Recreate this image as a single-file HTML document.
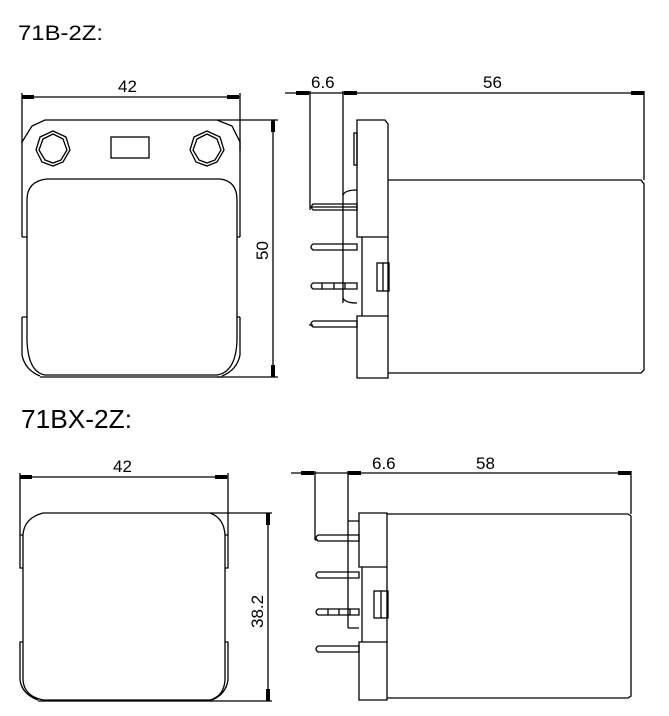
<!DOCTYPE html>
<html><head><meta charset="utf-8"><style>
html,body{margin:0;padding:0;background:#fff;}
svg{display:block;}
text{font-family:"Liberation Sans","DejaVu Sans",sans-serif;fill:#000;}
</style></head><body>
<svg width="669" height="716" viewBox="0 0 669 716" xmlns="http://www.w3.org/2000/svg" fill="none" stroke="#000" stroke-width="1.3">
<text x="18" y="40" font-size="21" textLength="85" lengthAdjust="spacingAndGlyphs" stroke="none">71B-2Z:</text>
<text x="21" y="428" font-size="26" textLength="111" lengthAdjust="spacingAndGlyphs" stroke="none">71BX-2Z:</text>

<!-- TOP LEFT -->
<line x1="22" y1="97" x2="240" y2="97"/>
<line x1="22" y1="93" x2="22" y2="143"/>
<line x1="240" y1="93" x2="240" y2="150"/>
<rect x="22" y="95" width="12" height="4" fill="#000" stroke="none"/>
<rect x="227" y="95" width="12" height="4" fill="#000" stroke="none"/>
<text x="118" y="92" font-size="17" stroke="none">42</text>
<path d="M22 237 L22 142 L32 126 L45 120 L217 120 L232 126 L240 142 L240 237"/>
<path d="M27 237 L27 200 Q27 181 47 179 L220 179 Q237 181 237 200 L237 237"/>
<path d="M22 237 L27 237 M240 237 L237 237"/>
<path d="M27 237 L27 340 Q28 372 45 375 L217 375 Q236 372 237 340 L237 237"/>
<path d="M22 317 L27 317 M22 317 L22 355 Q25 370 40 376 M240 317 L237 317 M240 317 L240 355 Q237 370 222 376"/>
<line x1="40" y1="377" x2="222" y2="377"/>
<polygon points="53,131 66,137 70,150 63,162 53,166 42,162 36,150 40,137"/>
<polygon points="53,134 63,139 67,150 61,160 53,163 45,160 39,150 43,139"/>
<polygon points="207,131 220,137 224,150 217,162 207,166 196,162 190,150 194,137"/>
<polygon points="207,134 217,139 221,150 215,160 207,163 199,160 193,150 197,139"/>
<rect x="111" y="137" width="38" height="21"/>
<line x1="217" y1="120" x2="278" y2="120"/>
<line x1="217" y1="377" x2="278" y2="377"/>
<line x1="273" y1="120" x2="273" y2="377"/>
<rect x="271" y="120" width="4" height="12" fill="#000" stroke="none"/>
<rect x="271" y="365" width="4" height="12" fill="#000" stroke="none"/>
<text x="0" y="0" font-size="17" stroke="none" transform="translate(268,260) rotate(-90)">50</text>

<!-- TOP RIGHT -->
<line x1="285" y1="93" x2="644" y2="93"/>
<rect x="296" y="91" width="13" height="4" fill="#000" stroke="none"/>
<rect x="344" y="91" width="13" height="4" fill="#000" stroke="none"/>
<rect x="631" y="91" width="13" height="4" fill="#000" stroke="none"/>
<text x="311" y="88" font-size="17" stroke="none">6.6</text>
<text x="483" y="88" font-size="17" stroke="none">56</text>
<line x1="310" y1="91" x2="310" y2="210"/>
<line x1="343" y1="91" x2="343" y2="303"/>
<line x1="644" y1="91" x2="644" y2="180"/>
<path d="M357 237 L357 120 L385 120 L388 124 L388 237 Z"/>
<rect x="354" y="133" width="3" height="32"/>
<path d="M388 180 L641 180 L644 184 L644 370 L641 373 L388 373"/>
<path d="M362 237 L362 316 M388 237 L388 316"/>
<path d="M357 316 L388 316 L388 378 L357 378 Z"/>
<path d="M343 195 Q345 190 357 190 M343 298 Q345 303 357 303"/>
<path d="M310 207 L357 207 M313 210 L357 210 L357 204 L313 204 Q310 207 313 210"/>
<path d="M313 244 L357 244 L357 250 L313 250 Q309 247 313 244"/>
<path d="M313 283 L357 283 L357 289 L313 289 Q309 286 313 283 M322 283 L322 289 M334 283 L334 289 M345 283 L345 289"/>
<path d="M313 321 L357 321 L357 327 L313 327 Q309 324 313 321 M309 325 L313 325"/>
<rect x="377" y="263" width="12" height="28"/>
<line x1="383" y1="263" x2="383" y2="291"/>

<!-- BOTTOM LEFT -->
<line x1="20" y1="477" x2="228" y2="477"/>
<line x1="20" y1="473" x2="20" y2="535"/>
<line x1="228" y1="473" x2="228" y2="535"/>
<rect x="20" y="475" width="12" height="4" fill="#000" stroke="none"/>
<rect x="215" y="475" width="12" height="4" fill="#000" stroke="none"/>
<text x="113" y="472" font-size="17" stroke="none">42</text>
<path d="M23 535 Q24 518 43 513 L210 513 Q224 518 225 535 L225 680 Q224 696 210 700 L43 700 Q24 696 23 680 Z"/>
<path d="M23 535 L20 535 L20 568 L23 568 M23 642 L20 642 L20 680 Q22 694 38 700"/>
<path d="M225 535 L228 535 L228 568 L225 568 M225 642 L228 642 L228 680 Q226 694 212 700"/>
<line x1="38" y1="701" x2="212" y2="701"/>
<line x1="210" y1="513" x2="272" y2="513"/>
<line x1="210" y1="701" x2="272" y2="701"/>
<line x1="268" y1="513" x2="268" y2="701"/>
<rect x="266" y="513" width="4" height="12" fill="#000" stroke="none"/>
<rect x="266" y="689" width="4" height="12" fill="#000" stroke="none"/>
<text x="0" y="0" font-size="17" stroke="none" transform="translate(263,628) rotate(-90)">38.2</text>

<!-- BOTTOM RIGHT -->
<line x1="291" y1="473" x2="631" y2="473"/>
<rect x="301" y="471" width="13" height="4" fill="#000" stroke="none"/>
<rect x="348" y="471" width="13" height="4" fill="#000" stroke="none"/>
<rect x="618" y="471" width="13" height="4" fill="#000" stroke="none"/>
<text x="372" y="469" font-size="17" stroke="none">6.6</text>
<text x="476" y="469" font-size="17" stroke="none">58</text>
<line x1="315" y1="471" x2="315" y2="540"/>
<line x1="348" y1="471" x2="348" y2="628"/>
<line x1="631" y1="471" x2="631" y2="514"/>
<path d="M359 567 L359 513 L387 513 L387 567 Z"/>
<path d="M387 514 L628 514 L631 516 L631 696 L628 698 L387 698"/>
<path d="M362 567 L362 642 M387 567 L387 642"/>
<path d="M359 642 L387 642 L387 700 L359 700 Z"/>
<path d="M348 521 L359 521 M348 628 L359 628"/>
<path d="M318 535 L359 535 L359 541 L318 541 Q314 538 318 535 M315 540 L318 540"/>
<path d="M318 572 L359 572 L359 578 L318 578 Q314 575 318 572"/>
<path d="M318 609 L359 609 L359 615 L318 615 Q314 612 318 609 M328 609 L328 615 M339 609 L339 615 M350 609 L350 615"/>
<path d="M318 646 L359 646 L359 652 L318 652 Q314 649 318 646"/>
<rect x="374" y="591" width="14" height="27"/>
<line x1="381" y1="591" x2="381" y2="618"/>
</svg>
</body></html>
